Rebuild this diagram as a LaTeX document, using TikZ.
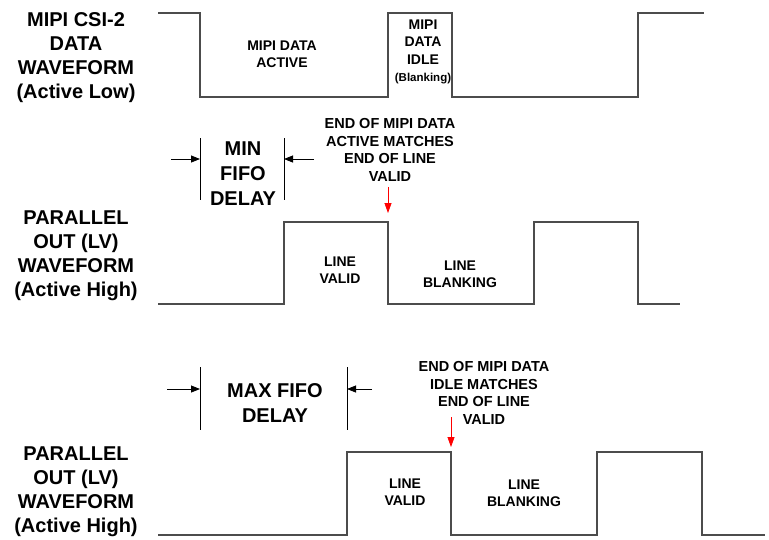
\documentclass[tikz,border=0pt]{standalone}
\usepackage{fontspec}
\setmainfont{Liberation Sans}
\usetikzlibrary{arrows.meta, positioning, calc}
\tikzset{
    wave/.style = {line width=1.2pt, draw=black!70},
    sigtext/.style = {font=\bfseries\fontsize{20}{24}\selectfont, align=center, inner sep=0pt},
    delaytext/.style = {font=\bfseries\fontsize{20}{25}\selectfont, align=center, inner sep=0pt},
    phasetext/.style = {font=\bfseries\fontsize{14}{17.5}\selectfont, align=center, inner sep=0pt},
    notetext/.style = {font=\bfseries\fontsize{14.5}{17.7}\selectfont, align=center, inner sep=0pt},
    bar/.style = {line width=0.8pt},
    dimarrow/.style = {line width=0.8pt, -{Triangle[length=9pt, width=7pt]}},
    redarrow/.style = {red, line width=0.8pt, -{Triangle[length=10pt, width=7pt]}}
}

\begin{document}
\begin{tikzpicture}[x=1pt, y=-1pt]
\useasboundingbox (0,0) rectangle (769,539);

% Signal names
\node (mipiname) [sigtext] at (76,58) {MIPI CSI-2\\DATA\\WAVEFORM\\(Active Low)};
\node (lvnameA) [sigtext] at (76,256) {PARALLEL\\OUT (LV)\\WAVEFORM\\(Active High)};
\node (lvnameB) [sigtext] at (76,492) {PARALLEL\\OUT (LV)\\WAVEFORM\\(Active High)};

% Waveforms
\draw [wave] (158,13) -- (200,13) -- (200,97) -- (388,97) -- (388,13) -- (452,13)
    -- (452,97) -- (638,97) -- (638,13) -- (704,13);
\draw [wave] (158,304) -- (284,304) -- (284,222) -- (388,222) -- (388,304) -- (534,304)
    -- (534,222) -- (638,222) -- (638,304) -- (680,304);
\draw [wave] (158,535) -- (347,535) -- (347,452) -- (451,452) -- (451,535) -- (597,535)
    -- (597,452) -- (702,452) -- (702,535) -- (765,535);

% Phase labels
\node (active) [phasetext] at (282,54) {MIPI DATA\\ACTIVE};
\node (idle) [phasetext] at (423,52) {MIPI\\DATA\\IDLE\\{\fontsize{11.5}{19}\selectfont (Blanking)}};
\node (validA) [phasetext] at (340,270) {LINE\\VALID};
\node (blankA) [phasetext] at (460,274) {LINE\\BLANKING};
\node (validB) [phasetext] at (405,492) {LINE\\VALID};
\node (blankB) [phasetext] at (524,493) {LINE\\BLANKING};

% Min FIFO delay
\node (mindelay) [delaytext] at (243,174) {MIN\\FIFO\\DELAY};
\coordinate (minL) at (200,138);
\coordinate (minR) at (284,138);
\draw [bar] (minL) -- ++(0,62);
\draw [bar] (minR) -- ++(0,62);
\draw [dimarrow] ($(minL)+(-29,21)$) -- ($(minL)+(0,21)$);
\draw [dimarrow] ($(minR)+(30,21)$) -- ($(minR)+(0,21)$);

% Max FIFO delay
\node (maxdelay) [delaytext] at (275,403) {MAX FIFO\\DELAY};
\coordinate (maxL) at (200,367);
\coordinate (maxR) at (347,367);
\draw [bar] (maxL) -- ++(0,63);
\draw [bar] (maxR) -- ++(0,63);
\draw [dimarrow] ($(maxL)+(-33,22)$) -- ($(maxL)+(0,22)$);
\draw [dimarrow] ($(maxR)+(25,22)$) -- ($(maxR)+(0,22)$);

% Notes
\node (noteA) [notetext] at (390,150) {END OF MIPI DATA\\ACTIVE MATCHES\\END OF LINE\\VALID};
\node (noteB) [notetext] at (484,393) {END OF MIPI DATA\\IDLE MATCHES\\END OF LINE\\VALID};
\coordinate (edgeA) at (388,213);
\coordinate (edgeB) at (451,447);
\draw [redarrow] ([yshift=-5pt]noteA.south -| edgeA) -- (edgeA);
\draw [redarrow] (451,417) -- (edgeB);

\end{tikzpicture}
\end{document}
